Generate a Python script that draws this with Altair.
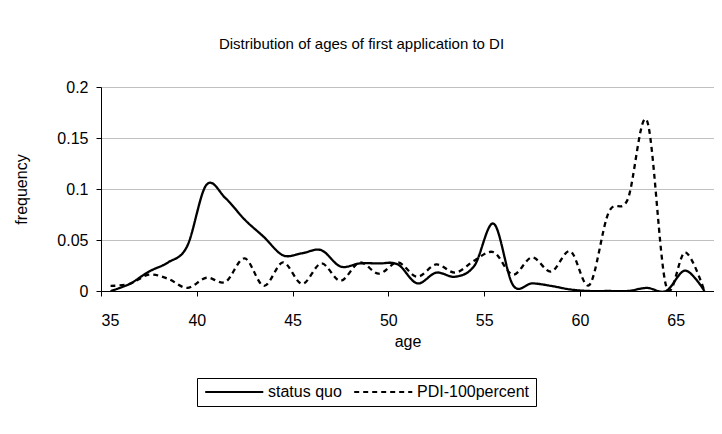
import altair as alt
import pandas as pd

ages = [35.5 + i for i in range(32)]  # 35.5 ... 66.5
status_quo = [0.0, 0.007, 0.019, 0.028, 0.044, 0.104, 0.091, 0.070, 0.053, 0.035,
              0.037, 0.040, 0.024, 0.027, 0.027, 0.026, 0.0075, 0.018, 0.014, 0.025,
              0.066, 0.006, 0.0075, 0.005, 0.0015, 0.0, 0.0, 0.0, 0.003, 0.0, 0.020, 0.0]
pdi_100 = [0.005, 0.007, 0.016, 0.012, 0.003, 0.013, 0.009, 0.032, 0.005, 0.028,
           0.007, 0.027, 0.010, 0.028, 0.017, 0.028, 0.014, 0.026, 0.018, 0.030,
           0.038, 0.016, 0.033, 0.019, 0.039, 0.006, 0.077, 0.090, 0.167, 0.005, 0.038, 0.0]
series_names = ["status quo", "PDI-100percent"]
x_ticks = [35, 40, 45, 50, 55, 60, 65]
y_ticks = [0, 0.05, 0.1, 0.15, 0.2]

rows = []
for name, vals in zip(series_names, [status_quo, pdi_100]):
    for a, v in zip(ages, vals):
        rows.append({"age": a, "frequency": v, "series": name})
df = pd.DataFrame(rows)

FONT = "Liberation Sans"
pad = "\u00a0" * 7

chart = alt.Chart(df).mark_line(
    interpolate="cardinal", color="black", strokeWidth=2.3, clip=True
).encode(
    x=alt.X("age:Q", scale=alt.Scale(domain=[35, 67], nice=False, zero=False),
            axis=alt.Axis(values=x_ticks, title="age", grid=False, domainColor="black",
                          tickColor="black", tickSize=5, labelPadding=24,
                          labelBaseline="middle", labelFontSize=16, labelColor="black",
                          titleFontSize=16, titleFontWeight="normal", titleColor="black",
                          titleY=50, titleBaseline="middle", labelFont=FONT, titleFont=FONT)),
    y=alt.Y("frequency:Q", scale=alt.Scale(domain=[0, 0.2], nice=False),
            axis=alt.Axis(values=y_ticks, title="frequency", grid=True, gridColor="#c0c0c0",
                          domainColor="black", tickColor="black", tickSize=5, labelPadding=8,
                          format="~g",
                          labelFontSize=16, labelColor="black", titleFontSize=16,
                          titleFontWeight="normal", titleColor="black", titleX=-80,
                          titleBaseline="middle", labelFont=FONT, titleFont=FONT)),
    strokeDash=alt.StrokeDash(
        "series:N",
        scale=alt.Scale(domain=series_names, range=[[1, 0], [5, 4]]),
        legend=alt.Legend(title=None, orient="none", legendX=96, legendY=291,
                          direction="horizontal", symbolType="M-1,0H9", symbolSize=135,
                          symbolStrokeWidth=2, symbolStrokeColor="black",
                          labelFontSize=16, labelFont=FONT, labelColor="black",
                          labelOffset=49, columnPadding=8, padding=6, labelLimit=400,
                          labelExpr="datum.label == 'PDI-100percent' ? datum.label + '" + pad + "' : datum.label",
                          strokeColor="black"),
    ),
).properties(
    width=613,
    height=204,
    title=alt.TitleParams("Distribution of ages of first application to DI", fontSize=15,
                          font=FONT, fontWeight="normal", color="black",
                          anchor="middle", frame="group", dx=-46, offset=27),
    padding={"left": 93, "top": 79, "right": 0, "bottom": 130},
    autosize=alt.AutoSizeParams(type="none"),
).configure_view(stroke=None)

chart.save("out.html", embed_options={"renderer": "svg", "actions": False})
